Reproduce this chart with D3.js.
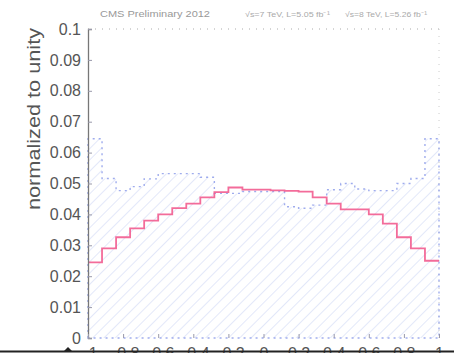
<!DOCTYPE html>
<html>
<head>
<meta charset="utf-8">
<script src="https://cdn.jsdelivr.net/npm/d3@7"></script>
<style>
  html, body { margin: 0; padding: 0; background: #fff; overflow: hidden; }
  svg { display: block; font-family: "Liberation Sans", Arial, sans-serif; }
</style>
</head>
<body>
<svg id="chart" width="454" height="353"></svg>
<script>
// 25 equal bins over [-1, 1]
const binEdges = d3.range(26).map(i => -1 + i * 0.08);

// 7 TeV sample (dotted blue, hatched)
const blueValues = [0.0645, 0.0516, 0.0477, 0.0490, 0.0515, 0.0532, 0.0532, 0.0532, 0.0520,
                    0.0468, 0.0468, 0.0474, 0.0474, 0.0474, 0.0425, 0.0420, 0.0430, 0.0480,
                    0.0500, 0.0482, 0.0477, 0.0477, 0.0500, 0.0516, 0.0645];

// 8 TeV sample (solid pink)
const redValues = [0.0245, 0.0290, 0.0326, 0.0355, 0.0380, 0.0400, 0.0420, 0.0435, 0.0455,
                   0.0472, 0.0487, 0.0480, 0.0480, 0.0478, 0.0476, 0.0474, 0.0455, 0.0435,
                   0.0416, 0.0416, 0.0400, 0.0370, 0.0326, 0.0290, 0.0250];

const yTicks = d3.range(0, 0.1001, 0.01);
const xTicks = d3.range(-1, 1.0001, 0.2);

const headerText = "CMS Preliminary 2012";
const legendLabels = ["\u221As=7 TeV, L=5.05 fb\u207B\u00B9", "\u221As=8 TeV, L=5.26 fb\u207B\u00B9"];
const yTitle = "normalized to unity";

const svg = d3.select("#chart");
const x = d3.scaleLinear().domain([-1, 1]).range([88, 439]);
const y = d3.scaleLinear().domain([0, 0.1]).range([338, 29]);

// hatch pattern for the filled histogram
const defs = svg.append("defs");
const pat = defs.append("pattern")
  .attr("id", "hatch").attr("patternUnits", "userSpaceOnUse")
  .attr("width", 8).attr("height", 8)
  .attr("patternTransform", "rotate(45)");
pat.append("line").attr("x1", 0).attr("y1", 0).attr("x2", 0).attr("y2", 8)
  .attr("stroke", "#d0d8f5").attr("stroke-width", 1.2);

function stepPoints(vals, closeToZero) {
  const pts = [];
  if (closeToZero) pts.push([x(binEdges[0]), y(0)]);
  vals.forEach((v, i) => {
    pts.push([x(binEdges[i]), y(v)]);
    pts.push([x(binEdges[i + 1]), y(v)]);
  });
  if (closeToZero) pts.push([x(binEdges[binEdges.length - 1]), y(0)]);
  return pts;
}
const line = d3.line();

// hatched area under the 7 TeV histogram
svg.append("path")
  .attr("d", line(stepPoints(blueValues, true)) + "Z")
  .attr("fill", "url(#hatch)");

// frame: top and right dotted
svg.append("line").attr("x1", x(-1)).attr("x2", x(1)).attr("y1", y(0.1)).attr("y2", y(0.1))
  .attr("stroke", "#aaa").attr("stroke-width", 1).attr("stroke-dasharray", "1,6");
svg.append("line").attr("x1", x(1)).attr("x2", x(1)).attr("y1", y(0.1)).attr("y2", y(0))
  .attr("stroke", "#ccc").attr("stroke-width", 1).attr("stroke-dasharray", "1,6");

// dotted outline of the 7 TeV histogram
svg.append("path")
  .attr("d", line(stepPoints(blueValues, true)) + "Z")
  .attr("fill", "none").attr("stroke", "#8797e8").attr("stroke-width", 1.4)
  .attr("stroke-dasharray", "2,4").attr("opacity", 0.8);

// 8 TeV histogram
svg.append("path")
  .attr("d", line(stepPoints(redValues, false)))
  .attr("fill", "none").attr("stroke", "#f25c8f").attr("stroke-width", 1.8)
  .attr("opacity", 0.9);

// y axis
const yAxis = d3.axisLeft(y).tickValues(yTicks).tickSize(-4).tickPadding(7)
  .tickFormat(d => d3.format("~g")(+d.toFixed(2)));
const gy = svg.append("g").attr("transform", `translate(${x(-1)},0)`).call(yAxis);
gy.select(".domain").attr("stroke", "#777").attr("stroke-width", 1.3);
gy.selectAll(".tick line").attr("stroke", "#99a").attr("stroke-width", 1);
gy.selectAll(".tick text").attr("fill", "#555").attr("font-size", 16)
  .attr("font-family", "'Liberation Sans', Arial, sans-serif");

// x axis (labels run past the bottom edge)
const xAxis = d3.axisBottom(x).tickValues(xTicks).tickSize(-4).tickPadding(10)
  .tickFormat(d => d3.format("~g")(+d.toFixed(1)));
const gx = svg.append("g").attr("transform", `translate(0,${y(0)})`).call(xAxis);
gx.select(".domain").remove();
gx.selectAll(".tick line").attr("stroke", "#99a");
gx.selectAll(".tick text").attr("fill", "#555").attr("font-size", 16)
  .attr("font-family", "'Liberation Sans', Arial, sans-serif");

// baseline strip at the bottom
svg.append("line").attr("x1", 0).attr("x2", 454).attr("y1", 351.5).attr("y2", 351.5)
  .attr("stroke", "#222").attr("stroke-width", 2);
svg.append("path").attr("d", "M64,351 L68,347 L72,351 Z").attr("fill", "#222");

// y title
svg.append("text")
  .attr("transform", "translate(40,119) rotate(-90)")
  .attr("text-anchor", "middle")
  .attr("font-size", 19).attr("fill", "#555")
  .attr("textLength", 182).attr("lengthAdjust", "spacingAndGlyphs")
  .text(yTitle);

// header
svg.append("text").attr("x", 100).attr("y", 17)
  .attr("font-size", 9.5).attr("fill", "#999")
  .attr("textLength", 110).attr("lengthAdjust", "spacingAndGlyphs")
  .text(headerText);
svg.append("text").attr("x", 245).attr("y", 17)
  .attr("font-size", 7.5).attr("fill", "#aaa")
  .attr("textLength", 85).attr("lengthAdjust", "spacingAndGlyphs")
  .text(legendLabels[0]);
svg.append("text").attr("x", 345).attr("y", 17)
  .attr("font-size", 7.5).attr("fill", "#aaa")
  .attr("textLength", 82).attr("lengthAdjust", "spacingAndGlyphs")
  .text(legendLabels[1]);
</script>
</body>
</html>
